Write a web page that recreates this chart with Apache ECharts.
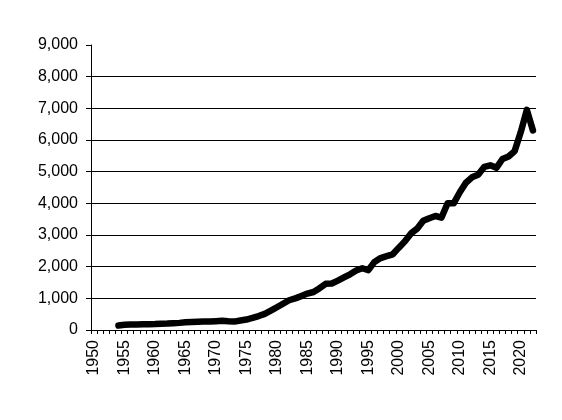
<!DOCTYPE html>
<html>
<head>
<meta charset="utf-8">
<script src="https://cdn.jsdelivr.net/npm/echarts@6/dist/echarts.min.js"></script>
<style>html,body{margin:0;padding:0;background:#fff}#c{width:562px;height:420px}</style>
</head>
<body>
<div id="c"></div>
<script>
const years = [];
for (let y = 1950; y <= 2022; y++) years.push(String(y));

const valuesByYear = {
  1954: 140, 1955: 165, 1956: 170, 1957: 175, 1958: 180, 1959: 185,
  1960: 190, 1961: 200, 1962: 205, 1963: 215, 1964: 225, 1965: 245,
  1966: 255, 1967: 260, 1968: 265, 1969: 270, 1970: 280, 1971: 290,
  1972: 275, 1973: 265, 1974: 300, 1975: 330, 1976: 380, 1977: 440,
  1978: 510, 1979: 610, 1980: 720, 1981: 830, 1982: 940, 1983: 1000,
  1984: 1070, 1985: 1150, 1986: 1200, 1987: 1320, 1988: 1460, 1989: 1470,
  1990: 1560, 1991: 1660, 1992: 1760, 1993: 1880, 1994: 1950, 1995: 1890,
  1996: 2150, 1997: 2270, 1998: 2330, 1999: 2390, 2000: 2600, 2001: 2800,
  2002: 3050, 2003: 3200, 2004: 3450, 2005: 3530, 2006: 3600, 2007: 3550,
  2008: 4000, 2009: 4000, 2010: 4350, 2011: 4650, 2012: 4820, 2013: 4900,
  2014: 5150, 2015: 5200, 2016: 5120, 2017: 5400, 2018: 5480, 2019: 5650,
  2020: 6250, 2021: 6950, 2022: 6300
};
const values = years.map(y => (valuesByYear[y] !== undefined ? valuesByYear[y] : null));

const yMin = 0, yMax = 9000, yInterval = 1000;

const chart = echarts.init(document.getElementById('c'), null, {renderer: 'canvas'});
chart.setOption({
  animation: false,
  backgroundColor: '#fff',
  grid: {left: 91, top: 45, width: 445, height: 285, containLabel: false},
  xAxis: {
    type: 'category',
    data: years,
    boundaryGap: true,
    axisLine: {show: true, lineStyle: {color: '#000', width: 1}},
    axisTick: {show: true, interval: 0, length: 4, lineStyle: {color: '#000'}},
    axisLabel: {
      interval: 4, rotate: 90, margin: 10, color: '#000',
      fontFamily: 'Liberation Sans, Arial, sans-serif', fontSize: 16
    },
    splitLine: {show: false}
  },
  yAxis: {
    type: 'value',
    min: yMin, max: yMax, interval: yInterval,
    axisLine: {show: true, lineStyle: {color: '#000', width: 1}},
    axisTick: {show: true, inside: false, length: 5, lineStyle: {color: '#000'}},
    axisLabel: {
      margin: 13, color: '#000',
      fontFamily: 'Liberation Sans, Arial, sans-serif', fontSize: 16,
      formatter: v => v.toLocaleString('en-US')
    },
    splitLine: {
      show: true,
      lineStyle: {color: ['#000','#000','#000','#000','#000','#000','#000','#000','#000','rgba(0,0,0,0)'], width: 1}
    }
  },
  series: [{
    type: 'line',
    data: values,
    showSymbol: false,
    connectNulls: false,
    lineStyle: {color: '#000', width: 6.5, cap: 'round', join: 'round'}
  }]
});
</script>
</body>
</html>
